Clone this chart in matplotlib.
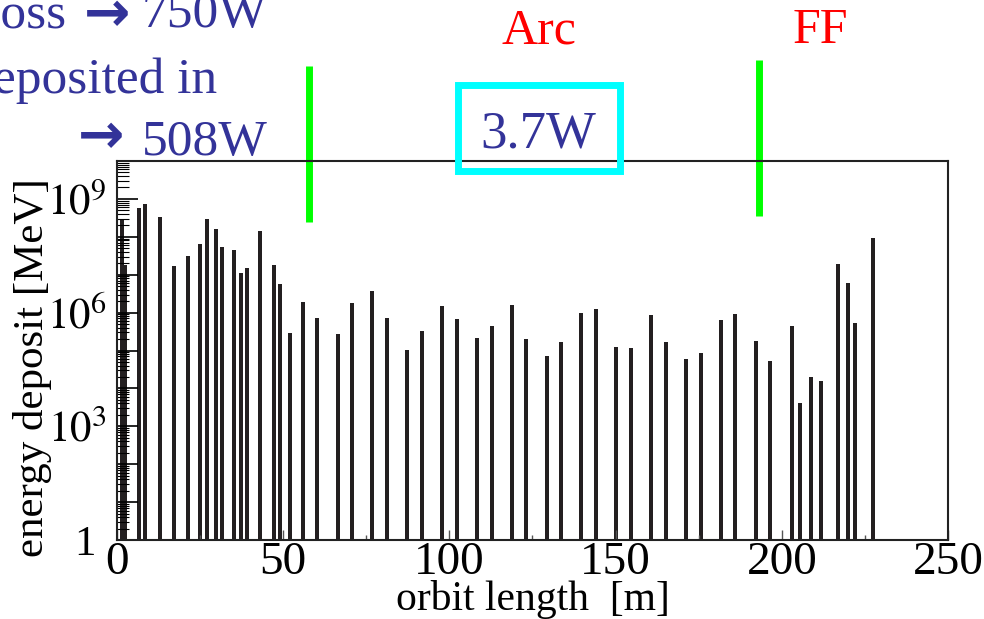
import numpy as np
import matplotlib
matplotlib.use("Agg")
import matplotlib.pyplot as plt
from matplotlib.ticker import LogLocator, FixedLocator, FuncFormatter, NullFormatter
from matplotlib.patches import Rectangle

plt.rcParams['font.family'] = ['Liberation Serif', 'DejaVu Serif']
plt.rcParams['mathtext.fontset'] = 'stix'

# orbit position [m] and deposited energy [MeV] per loss point
orbit_pos = [1.6, 2.6, 6.8, 8.5, 13.1, 17.3, 21.5, 25.1, 27.2, 29.9, 31.7, 35.3,
             37.4, 39.2, 43.1, 47.3, 49.1, 52.1, 56.0, 60.2, 66.6, 70.8, 76.8,
             81.3, 87.3, 91.8, 97.8, 102.3, 108.3, 112.8, 118.8, 123.0, 129.4,
             133.6, 139.6, 144.1, 150.1, 154.6, 160.6, 165.1, 171.1, 175.6,
             181.7, 185.9, 192.2, 196.4, 203.0, 205.4, 208.7, 211.7, 216.8,
             219.8, 221.9, 227.3]
energy_dep = [2.9e8, 1.8e7, 5.9e8, 7.5e8, 3.4e8, 1.7e7, 3.2e7, 6.6e7, 3.0e8,
              1.6e8, 5.5e7, 4.6e7, 1.1e7, 1.5e7, 1.45e8, 1.8e7, 5.8e6, 2.9e5,
              1.9e6, 7.3e5, 2.8e5, 1.8e6, 3.8e6, 7.3e5, 1.05e5, 3.3e5, 1.5e6,
              6.9e5, 2.2e5, 4.5e5, 1.6e6, 2.0e5, 7.2e4, 1.7e5, 1.0e6, 1.26e6,
              1.25e5, 1.2e5, 8.8e5, 1.7e5, 6.0e4, 8.7e4, 6.5e5, 9.3e5, 1.8e5,
              5.3e4, 4.5e5, 4.2e3, 2.0e4, 1.6e4, 1.95e7, 6.1e6, 5.4e5, 9.5e7]

# section boundaries [m] and labels
section_bounds = [57.7, 193.2]
section_names = ['Arc', 'FF']
arc_power = '3.7W'
loss_power = '750W'
arc_deposit = '508W'

navy = '#333399'
W, H = 984, 619

fig = plt.figure(figsize=(9.84, 6.19), dpi=100)
ax = fig.add_axes([0.1184, 0.1276, 0.8455, 0.6123])

ax.bar(orbit_pos, energy_dep, width=1.15, bottom=1, color='#231f20', linewidth=0)

ax.set_yscale('log')
ax.set_xlim(0, 250)
ax.set_ylim(1, 1e10)

ax.xaxis.set_major_locator(FixedLocator([0, 50, 100, 150, 200, 250]))
ax.xaxis.set_minor_locator(FixedLocator([25, 75, 125, 175, 225]))
ax.yaxis.set_major_locator(LogLocator(base=10, numticks=20))
ax.yaxis.set_minor_locator(LogLocator(base=10, subs=np.arange(2, 10), numticks=20))
ax.yaxis.set_minor_formatter(NullFormatter())


def ylab(v, pos):
    e = int(round(np.log10(v)))
    if e == 0:
        return '1 '
    if e % 3 == 0 and e < 10:
        return '$10^{%d}$' % e
    return ''


ax.yaxis.set_major_formatter(FuncFormatter(ylab))

ax.tick_params(axis='x', which='major', direction='in', length=7, width=1,
               color='#555555', labelsize=34, pad=1)
ax.tick_params(axis='x', which='minor', direction='in', length=3.5, width=1,
               color='#555555')
ax.tick_params(axis='y', which='major', direction='in', length=15, width=1.2,
               labelsize=31, pad=7)
ax.tick_params(axis='y', which='minor', direction='in', length=8.5, width=0.8)
for s in ax.spines.values():
    s.set_linewidth(1.5)
    s.set_color('#222222')

ax.set_xlabel('orbit length  [m]', fontsize=30, labelpad=-3)
ax.set_ylabel('energy deposit [MeV]', fontsize=31, loc='top')
ax.yaxis.set_label_coords(-0.078, 0.955)

# section boundary markers above the frame
trans = ax.get_xaxis_transform()
ax.vlines(section_bounds[0], 0.839, 1.251, transform=trans, color='#00ff00',
          linewidth=5, clip_on=False)
ax.vlines(section_bounds[1], 0.855, 1.266, transform=trans, color='#00ff00',
          linewidth=5, clip_on=False)

fig.text(539 / W, 1 - 43 / H, section_names[0], color='red', fontsize=36,
         ha='center', va='baseline')
fig.text(820 / W, 1 - 43 / H, section_names[1], color='red', fontsize=36,
         ha='center', va='baseline')

fig.patches.append(Rectangle((457.5 / W, 1 - 170.5 / H), 162 / W, 86 / H,
                             transform=fig.transFigure, fill=False,
                             edgecolor='#00ffff', linewidth=5, zorder=5))
fig.text(538 / W, 1 - 148 / H, arc_power, color=navy, fontsize=38,
         ha='center', va='baseline')

# summary text at top left (partly outside the canvas)
arrow_kw = dict(color=navy, fontsize=40, fontweight='bold', family='DejaVu Sans',
                ha='center', va='center')
fig.text(67 / W, 1 - 27 / H, 'Loss', color=navy, fontsize=37, ha='right', va='baseline')
fig.text(107 / W, 1 - 16 / H, '\u2192', **arrow_kw)
fig.text(142 / W, 1 - 27 / H, loss_power, color=navy, fontsize=37, ha='left', va='baseline')
fig.text(217 / W, 1 - 93 / H, 'Deposited in', color=navy, fontsize=37,
         ha='right', va='baseline')
fig.text(101 / W, 1 - 138 / H, '\u2192', **arrow_kw)
fig.text(142 / W, 1 - 155 / H, arc_deposit, color=navy, fontsize=37, ha='left', va='baseline')

fig.savefig('out.png', dpi=100)
